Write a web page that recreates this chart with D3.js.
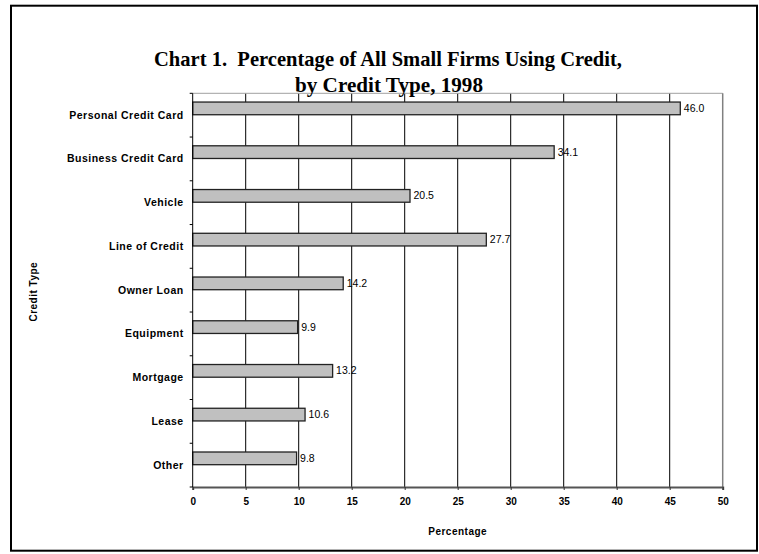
<!DOCTYPE html>
<html>
    <head>
        <meta charset='UTF-8'>
        <title>Percentage of All Small Firms Using Credit</title>
        <script src='https://d3js.org/d3.v7.min.js'></script>
        <style type='text/css'>
        body {
            margin: 0;
            background: #fff;
        }
        .axis-lbl {
            font-family: Arial, "Liberation Sans", sans-serif;
            font-weight: bold;
        }
        .title {
            white-space: pre;
        }
        </style>
    </head>
    <body>
        <div id="container"></div>
    </body>

    <script>
        // data
        var categories = ["Personal Credit Card", "Business Credit Card", "Vehicle", "Line of Credit",
                          "Owner Loan", "Equipment", "Mortgage", "Lease", "Other"];
        var values     = [46.0, 34.1, 20.5, 27.7, 14.2, 9.9, 13.2, 10.6, 9.8];
        var xTicks     = [0, 5, 10, 15, 20, 25, 30, 35, 40, 45, 50];
        var titleLines = ["Chart 1.  Percentage of All Small Firms Using Credit,", "by Credit Type, 1998"];

        var data = categories.map(function(c, i) { return {cat: c, val: values[i]}; });

        var W = 759, H = 554;
        var plot = {left: 192.7, right: 722.7, top: 93.3, bottom: 487};

        var svg = d3.select("#container").append("svg")
            .attr("width", W)
            .attr("height", H);

        // outer frame
        svg.append("rect")
            .attr("x", 11).attr("y", 5.7)
            .attr("width", 746).attr("height", 545)
            .attr("fill", "none")
            .attr("stroke", "#000")
            .attr("stroke-width", 2);

        // scales
        var x = d3.scaleLinear().domain([0, 50]).range([plot.left, plot.right]);
        var y = d3.scaleBand().domain(categories).range([plot.top, plot.bottom]).padding(0);
        var bw = y.bandwidth();

        // gridlines
        svg.append("g").selectAll("line")
            .data(xTicks.filter(function(t) { return t > 0 && t < 50; }))
            .enter().append("line")
            .attr("x1", function(d) { return x(d); })
            .attr("x2", function(d) { return x(d); })
            .attr("y1", plot.top).attr("y2", plot.bottom)
            .attr("stroke", "#000")
            .attr("stroke-width", 1);

        // plot area top and right edges
        svg.append("line")
            .attr("x1", plot.left).attr("x2", plot.right)
            .attr("y1", plot.top).attr("y2", plot.top)
            .attr("stroke", "#a0a0a0");
        svg.append("line")
            .attr("x1", plot.right).attr("x2", plot.right)
            .attr("y1", plot.top).attr("y2", plot.bottom)
            .attr("stroke", "#808080")
            .attr("stroke-width", 1.5);

        // bars
        svg.append("g").selectAll("rect")
            .data(data)
            .enter().append("rect")
            .attr("x", x(0))
            .attr("y", function(d) { return y(d.cat) + bw * 0.2; })
            .attr("width", function(d) { return x(d.val) - x(0); })
            .attr("height", bw * 0.29)
            .attr("fill", "#c0c0c0")
            .attr("stroke", "#222")
            .attr("stroke-width", 1.3);

        // value labels
        svg.append("g").selectAll("text")
            .data(data)
            .enter().append("text")
            .attr("x", function(d) { return x(d.val) + 3.5; })
            .attr("y", function(d) { return y(d.cat) + bw * 0.345 + 3.6; })
            .attr("font-family", "Arial, 'Liberation Sans', sans-serif")
            .attr("font-size", "10.5px")
            .attr("fill", "#000")
            .text(function(d) { return d.val.toFixed(1); });

        // bottom axis
        var xAxis = svg.append("g")
            .attr("transform", "translate(0," + plot.bottom + ")")
            .call(d3.axisBottom(x).tickValues(xTicks).tickSize(3).tickPadding(8).tickFormat(d3.format("d")));
        xAxis.select(".domain").attr("stroke", "#555").attr("stroke-width", 2);
        xAxis.selectAll(".tick line").attr("stroke", "#333");
        xAxis.selectAll(".tick text")
            .attr("class", "axis-lbl")
            .attr("font-size", "10px")
            .attr("fill", "#000");

        // left axis
        var yAxis = svg.append("g")
            .attr("transform", "translate(" + plot.left + ",0)")
            .call(d3.axisLeft(y).tickSize(0).tickPadding(9));
        yAxis.select(".domain").remove();
        yAxis.selectAll(".tick text")
            .attr("class", "axis-lbl")
            .attr("font-size", "10.5px")
            .attr("letter-spacing", "0.5px")
            .attr("fill", "#000");

        svg.append("line")
            .attr("x1", plot.left).attr("x2", plot.left)
            .attr("y1", plot.top).attr("y2", plot.bottom)
            .attr("stroke", "#000");
        // left ticks at category boundaries
        svg.append("g").selectAll("line")
            .data(categories)
            .enter().append("line")
            .attr("x1", plot.left - 3).attr("x2", plot.left)
            .attr("y1", function(d) { return y(d); })
            .attr("y2", function(d) { return y(d); })
            .attr("stroke", "#000");
        svg.append("line")
            .attr("x1", plot.left - 3).attr("x2", plot.left)
            .attr("y1", plot.bottom).attr("y2", plot.bottom)
            .attr("stroke", "#000");

        // axis titles
        svg.append("text")
            .attr("class", "axis-lbl")
            .attr("x", (plot.left + plot.right) / 2)
            .attr("y", 535)
            .attr("text-anchor", "middle")
            .attr("font-size", "10px")
            .attr("letter-spacing", "0.5px")
            .text("Percentage");

        svg.append("text")
            .attr("class", "axis-lbl")
            .attr("transform", "translate(37,291.7) rotate(-90)")
            .attr("text-anchor", "middle")
            .attr("font-size", "10px")
            .attr("letter-spacing", "0.5px")
            .text("Credit Type");

        // title
        svg.append("text")
            .attr("class", "title")
            .attr("x", 388).attr("y", 66)
            .attr("text-anchor", "middle")
            .attr("font-family", "'Times New Roman', 'Liberation Serif', serif")
            .attr("font-weight", "bold")
            .attr("font-size", "21px")
            .attr("textLength", 468)
            .attr("lengthAdjust", "spacingAndGlyphs")
            .text(titleLines[0]);
        svg.append("text")
            .attr("class", "title")
            .attr("x", 389).attr("y", 92.3)
            .attr("text-anchor", "middle")
            .attr("font-family", "'Times New Roman', 'Liberation Serif', serif")
            .attr("font-weight", "bold")
            .attr("font-size", "21px")
            .attr("textLength", 188)
            .attr("lengthAdjust", "spacingAndGlyphs")
            .text(titleLines[1]);
    </script>
</html>
